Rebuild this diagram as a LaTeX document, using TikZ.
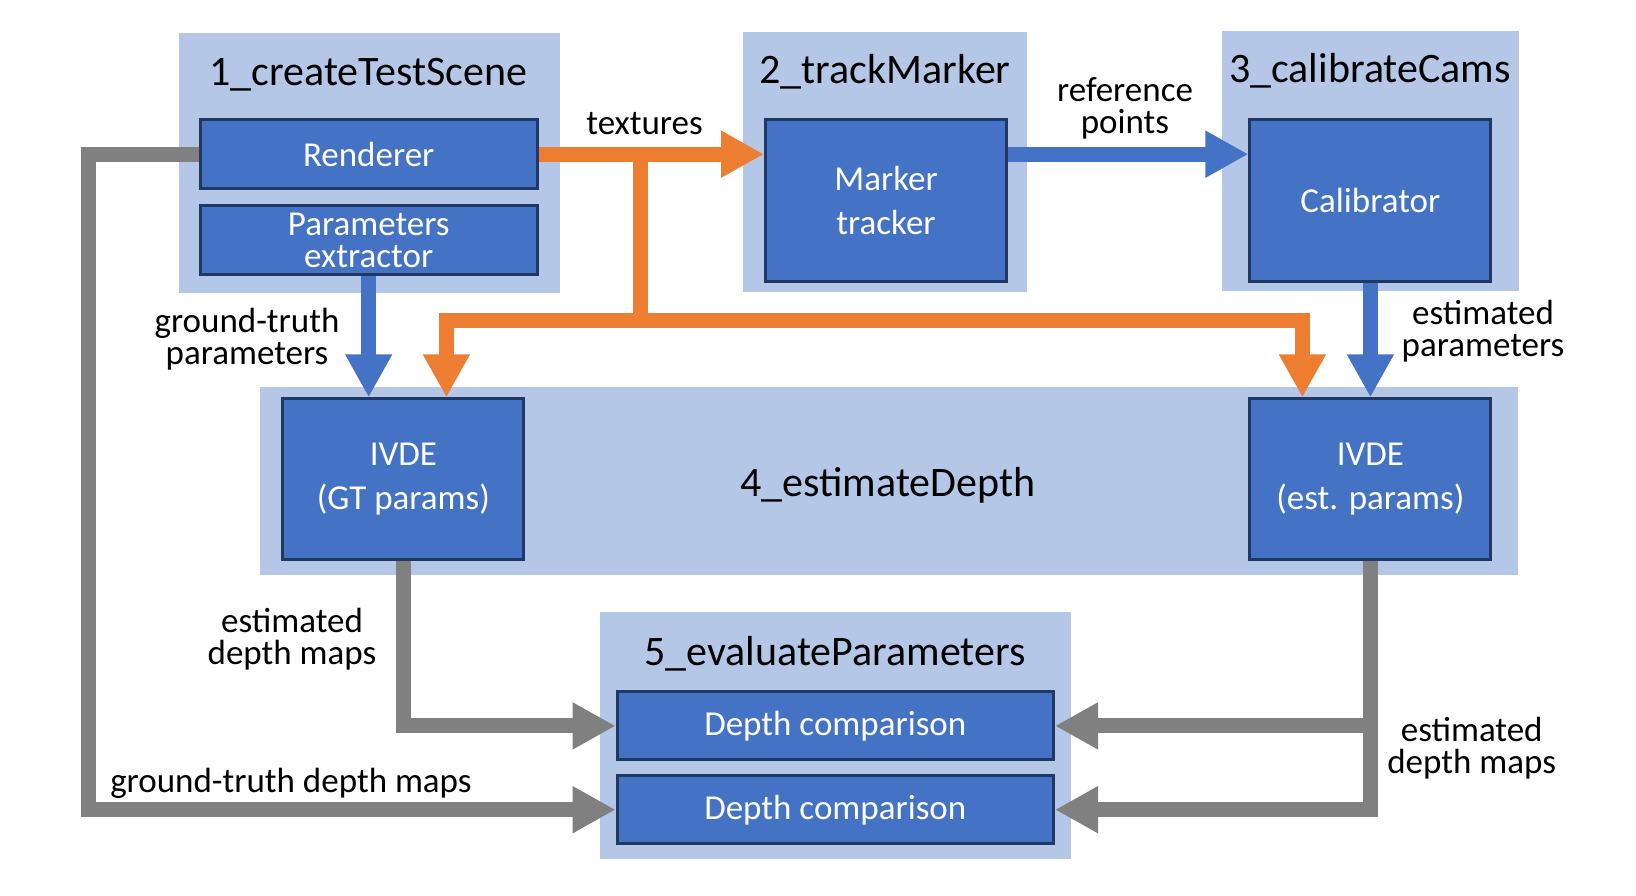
\documentclass[tikz,border=0pt]{standalone}
\usepackage{fontspec}
\setmainfont{Carlito}
\usetikzlibrary{positioning,arrows.meta,calc}
\definecolor{stagebg}{HTML}{B4C7E7}
\definecolor{unitfill}{HTML}{4472C4}
\definecolor{unitline}{HTML}{1F3864}
\definecolor{flowblue}{HTML}{4472C4}
\definecolor{floworange}{HTML}{ED7D31}
\definecolor{flowgray}{HTML}{808080}

\begin{document}
\begin{tikzpicture}[x=1pt,y=-1pt]
\tikzset{
    stage/.style={rectangle, fill=stagebg, inner sep=0pt},
    stagetitle/.style={anchor=base, inner sep=0pt, font=\fontsize{42}{50}\selectfont},
    unit/.style={rectangle, draw=unitline, line width=3pt, fill=unitfill, text=white, align=center, inner sep=0pt, font=\fontsize{35}{44}\selectfont},
    lbl/.style={align=center, inner sep=0pt, font=\fontsize{35}{32}\selectfont},
    link/.style={line width=15pt},
    flow/.style={link, -{Triangle[width=44pt,length=43pt]}}
}
\useasboundingbox (0,0) rectangle (1636,896);

% stages
\node[stage, minimum width=381pt, minimum height=260pt] (gscene) at (369.5,163) {};
\node[stage, minimum width=284pt, minimum height=259pt] (gtrack) at (885,162) {};
\node[stage, minimum width=297pt, minimum height=260pt] (gcalib) at (1370.4,161) {};
\node[stage, minimum width=1258pt, minimum height=188.5pt] (gdepth) at (889,480.8) {};
\node[stage, minimum width=470.5pt, minimum height=247pt] (geval) at (835.3,735.8) {};

\node[stagetitle] (tscene) at (368.5,86) {1\_createTestScene};
\node[stagetitle] (ttrack) at (885,84) {2\_trackMarker};
\node[stagetitle] (tcalib) at (1370,83) {3\_calibrateCams};
\node[stagetitle] (tdepth) at (888,496) {4\_estimateDepth};
\node[stagetitle] (teval) at (835,665) {5\_evaluateParameters};

% units
\node[unit, minimum width=337pt, minimum height=68.7pt] (renderer) at (368.7,154.2) {Renderer};
\node[unit, minimum width=337pt, minimum height=68.7pt, font=\fontsize{35}{32}\selectfont] (extractor) at (368.7,240.2) {Parameters\\extractor};
\node[unit, minimum width=241pt, minimum height=162pt] (tracker) at (886,200.8) {Marker\\tracker};
\node[unit, minimum width=241pt, minimum height=162pt] (calibrator) at (1370.4,200.8) {Calibrator};
\node[unit, minimum width=241pt, minimum height=160.7pt] (ivdegt) at (403.4,479.2) {IVDE\\(GT params)};
\node[unit, minimum width=241pt, minimum height=160.7pt] (ivdeest) at (1370.4,479.2) {IVDE\\(est. params)};
\node[unit, minimum width=436.4pt, minimum height=68pt] (compa) at (835.3,725.9) {Depth comparison};
\node[unit, minimum width=436.4pt, minimum height=68pt] (compb) at (835.3,809.7) {Depth comparison};

% textures
\coordinate (tsplit) at (640,320);
\draw[flow, floworange] (renderer.east) -- (renderer.east -| tracker.west);
\draw[link, floworange] (renderer.east -| tsplit) -- (tsplit);
\draw[flow, floworange] (tsplit) -| ($(ivdegt.north)+(43,0)$);
\draw[flow, floworange] (tsplit) -| ($(ivdeest.north)+(-68,0)$);

% parameters
\draw[flow, flowblue] (extractor.south) -- (extractor.south |- ivdegt.north);
\draw[flow, flowblue] (tracker.east |- renderer.east) -- (calibrator.west |- renderer.east);
\draw[flow, flowblue] (calibrator.south) -- (ivdeest.north);

% depth maps
\coordinate (gtcorner) at (88,154.2);
\draw[flow, flowgray] (renderer.west) -- (gtcorner) |- (compb.west);
\draw[flow, flowgray] (ivdegt.south) |- (compa.west);
\draw[flow, flowgray] (ivdeest.south) |- (compb.east);
\draw[flow, flowgray] (ivdeest.south |- compa.east) -- (compa.east);

% labels
\node[lbl] (ltex) at (644.6,124) {textures};
\node[lbl] (lref) at (1125,108) {reference\\points};
\node[lbl] (lgtpar) at (247,339) {ground-truth\\parameters};
\node[lbl] (lestpar) at (1483,331) {estimated\\parameters};
\node[lbl] (lestgt) at (292,639) {estimated\\depth maps};
\node[lbl] (lgtdep) at (291,783) {ground-truth depth maps};
\node[lbl] (lestest) at (1471.7,748) {estimated\\depth maps};
\end{tikzpicture}
\end{document}
